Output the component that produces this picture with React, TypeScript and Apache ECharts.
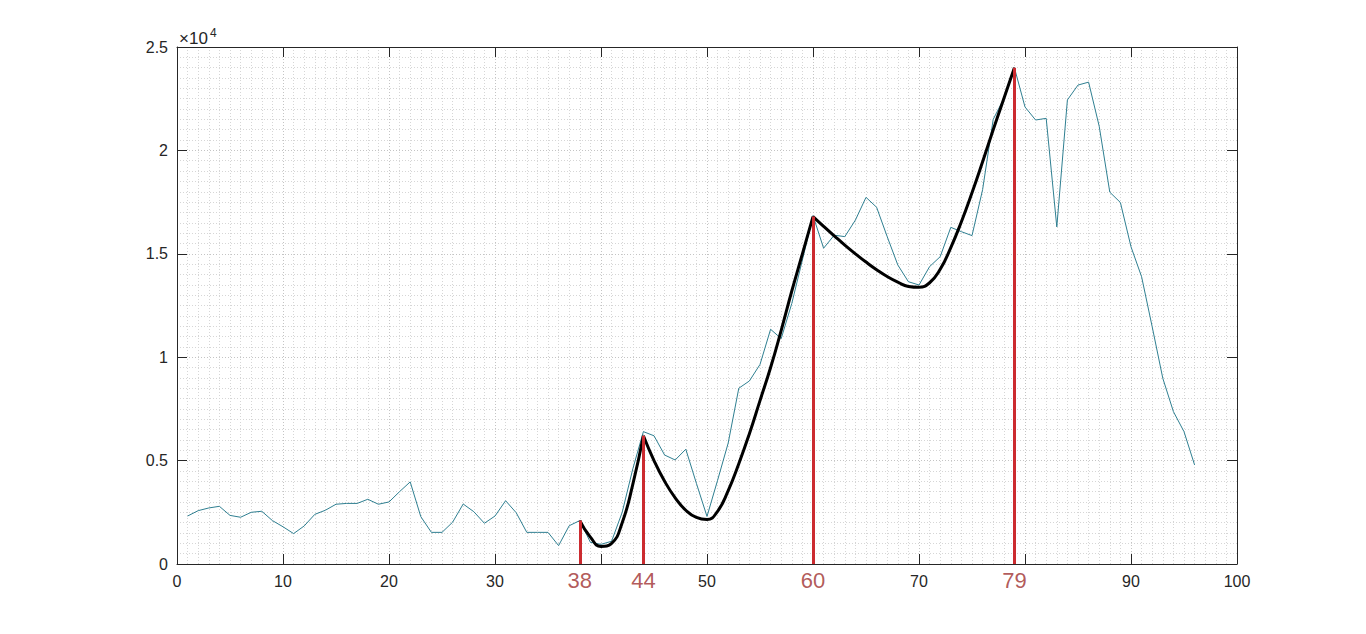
import React, { useEffect, useRef } from "react";
import * as echarts from "echarts";

// Measured series (x = 1..96)
const seriesX: number[] = Array.from({ length: 96 }, (_, i) => i + 1);
const seriesY: number[] = [
  2320, 2580, 2710, 2790, 2350, 2260, 2500, 2550, 2100, 1800,
  1470, 1840, 2400, 2600, 2890, 2930, 2930, 3130, 2890, 3000,
  3500, 3970, 2290, 1530, 1530, 2020, 2900, 2530, 1970, 2320,
  3060, 2480, 1530, 1530, 1530, 890, 1850, 2100, 1050, 950,
  1100, 2500, 4600, 6400, 6200, 5270, 5030, 5550, 3900, 2300,
  4050, 5850, 8500, 8850, 9650, 11350, 10900, 12600, 14700, 16850,
  15270, 15900, 15830, 16630, 17730, 17250, 15830, 14460, 13650, 13490,
  14380, 14860, 16280, 16070, 15880, 18100, 21500, 22500, 24000, 22100,
  21470, 21550, 16300, 22440, 23160, 23300, 21170, 17980, 17480, 15340,
  13890, 11470, 8980, 7370, 6400, 4790,
];

// Fitted black curves, read at integer x
const fit1X: number[] = [38, 39, 40, 41, 42, 43, 44];
const fit1Y: number[] = [2100, 1300, 850, 1000, 2000, 3850, 6200];
const fit2X: number[] = [44, 45, 46, 47, 48, 49, 50, 51, 52, 53, 54, 55, 56, 57, 58, 59, 60];
const fit2Y: number[] = [6200, 5000, 4000, 3200, 2600, 2250, 2150, 2550, 3550, 4850, 6300, 7900, 9500, 11300, 13200, 15000, 16800];
const fit3X: number[] = [60, 61, 62, 63, 64, 65, 66, 67, 68, 69, 70, 71, 72, 73, 74, 75, 76, 77, 78, 79];
const fit3Y: number[] = [16800, 16330, 15870, 15420, 15000, 14600, 14230, 13900, 13630, 13420, 13380, 13600, 14250, 15300, 16550, 17950, 19450, 21000, 22500, 24000];

// Key points (red markers)
const keyX: number[] = [38, 44, 60, 79];
const keyY: number[] = [2100, 6200, 16800, 24000];

// Axis ticks
const xTicks: number[] = [0, 10, 20, 30, 40, 50, 60, 70, 80, 90, 100];
const xHidden: number[] = [40, 60, 80];
const yTickLabels: string[] = ["0", "0.5", "1", "1.5", "2", "2.5"];

const FONT = "Liberation Sans, Arial, Helvetica, sans-serif";
const AX = "#262626";

const zip = (xs: number[], ys: number[]) => xs.map((x, i) => [x, ys[i]]);

export default function App() {
  const ref = useRef<HTMLDivElement>(null);
  useEffect(() => {
    if (!ref.current) return;
    const chart = echarts.init(ref.current, undefined, { renderer: "svg" });
    const gridLineMajor = { show: true, lineStyle: { color: "#c4c4c4", type: [1, 2] as any, width: 1 } };
    const gridLineMinor = { show: true, lineStyle: { color: "#d6d6d6", type: [1, 2] as any, width: 1 } };
    chart.setOption({
      animation: false,
      backgroundColor: "#ffffff",
      textStyle: { fontFamily: FONT },
      grid: { left: 177, top: 47, right: 129, bottom: 70, containLabel: false },
      xAxis: [
        {
          type: "value", min: 0, max: 100, interval: 10, position: "bottom",
          axisLine: { show: true, onZero: false, lineStyle: { color: AX, width: 1 } },
          axisTick: { show: true, inside: true, length: 10, lineStyle: { color: AX } },
          axisLabel: {
            show: true, color: AX, fontSize: 16, fontFamily: FONT, margin: 9,
            formatter: (v: number) => (xTicks.includes(v) && !xHidden.includes(v) ? String(v) : ""),
          },
          splitLine: gridLineMajor,
          minorTick: { show: false, splitNumber: 10 },
          minorSplitLine: gridLineMinor,
        },
        {
          type: "value", min: 0, max: 100, interval: 10, position: "top",
          axisLine: { show: true, onZero: false, lineStyle: { color: AX, width: 1 } },
          axisTick: { show: true, inside: true, length: 10, lineStyle: { color: AX } },
          axisLabel: { show: false },
          splitLine: { show: false },
        },
      ],
      yAxis: [
        {
          type: "value", min: 0, max: 25000, interval: 5000, position: "left",
          axisLine: { show: true, onZero: false, lineStyle: { color: AX, width: 1 } },
          axisTick: { show: true, inside: true, length: 10, lineStyle: { color: AX } },
          axisLabel: {
            show: true, color: AX, fontSize: 16, fontFamily: FONT, margin: 9,
            formatter: (v: number) => yTickLabels[Math.round(v / 5000)] ?? "",
          },
          splitLine: gridLineMajor,
          minorTick: { show: false, splitNumber: 10 },
          minorSplitLine: gridLineMinor,
        },
        {
          type: "value", min: 0, max: 25000, interval: 5000, position: "right",
          axisLine: { show: true, onZero: false, lineStyle: { color: AX, width: 1 } },
          axisTick: { show: true, inside: true, length: 10, lineStyle: { color: AX } },
          axisLabel: { show: false },
          splitLine: { show: false },
        },
      ],
      graphic: [
        { type: "text", x: 179, y: 30, style: { text: "×10", font: `17px ${FONT}`, fill: AX } },
        { type: "text", x: 210, y: 27, style: { text: "4", font: `12px ${FONT}`, fill: AX } },
      ],
      series: [
        {
          type: "line", data: zip(seriesX, seriesY), showSymbol: false, symbol: "none",
          lineStyle: { color: "#2f7f91", width: 1 }, z: 2, silent: true,
        },
        {
          type: "scatter", data: keyX.map((x) => [x, 0]), symbolSize: 0, z: 3, silent: true,
          label: {
            show: true, position: "bottom", distance: 5, color: "#9e2f2f", fontSize: 22, fontFamily: FONT,
            formatter: (p: any) => String(p.value[0]),
          },
          markLine: {
            silent: true, symbol: "none", animation: false,
            label: { show: false },
            lineStyle: { color: "#cc2b30", width: 3, type: "solid" },
            data: keyX.map((x, i) => [{ coord: [x, 0] }, { coord: [x, keyY[i]] }]) as any,
          },
        },
        ...[zip(fit1X, fit1Y), zip(fit2X, fit2Y), zip(fit3X, fit3Y)].map((d) => ({
          type: "line", data: d, smooth: 0.5, showSymbol: false, symbol: "none",
          lineStyle: { color: "#000000", width: 3 }, z: 4, silent: true,
        })),
      ],
    });
    return () => chart.dispose();
  }, []);
  return (
    <div
      ref={ref}
      style={{ position: "fixed", left: 0, top: 0, width: 1366, height: 634, background: "#fff" }}
    />
  );
}
